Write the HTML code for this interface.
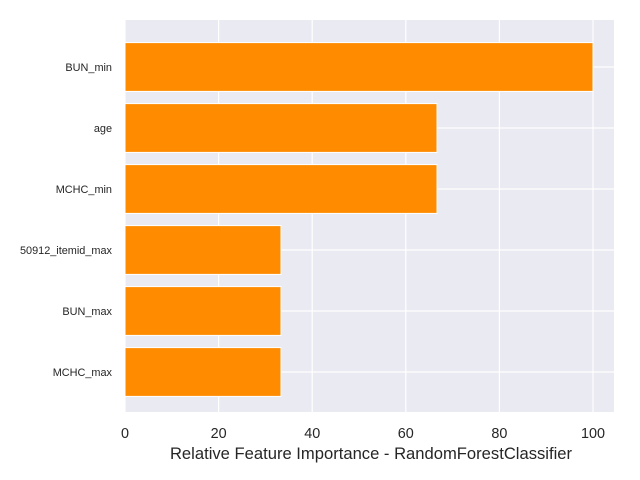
<!DOCTYPE html>
<html><head><meta charset="utf-8"><style>
body{margin:0;background:#fff;}
svg{display:block;font-family:"Liberation Sans","DejaVu Sans",sans-serif;}
</style></head><body>
<svg id="chart" width="640" height="480">
<rect x="125" y="20" width="489" height="392" fill="#eaeaf2"/>
<g id="grid"></g><g id="bars"></g><g id="labels"></g>
<text x="371" y="459" text-anchor="middle" font-size="16.6" fill="#262626">Relative Feature Importance - RandomForestClassifier</text>
</svg>
<script>
const categories=["BUN_min","age","MCHC_min","50912_itemid_max","BUN_max","MCHC_max"];
const values=[100,66.67,66.67,33.33,33.33,33.33];
const xTicks=[0,20,40,60,80,100];
const NS="http://www.w3.org/2000/svg";
const x=v=>125+v*4.68;
const y=i=>67+i*61;
function mk(tag,attrs,parent,text){const e=document.createElementNS(NS,tag);for(const k in attrs)e.setAttribute(k,attrs[k]);if(text!==undefined)e.textContent=text;document.getElementById(parent).appendChild(e);return e;}
xTicks.forEach(t=>{
 const l=mk('line',{x1:x(t),x2:x(t),y1:20,y2:412,stroke:'#fff','stroke-width':1.2},'grid');
 
 
 const tx=mk('text',{x:x(t),y:438,'text-anchor':'middle','font-size':14.4,fill:'#262626'},'labels',String(t));
 
 
});
categories.forEach((c,i)=>{
 const g=mk('line',{x1:125,x2:614,y1:y(i),y2:y(i),stroke:'#fff','stroke-width':1.2},'grid');
 
 
 const r=mk('rect',{x:125,y:y(i)-24.4,width:x(values[i])-125,height:48.8,fill:'#ff8c00',stroke:'#fff','stroke-width':1},'bars');
 
 
 const t=mk('text',{x:112,y:y(i)+3.8,'text-anchor':'end','font-size':10.9,fill:'#262626'},'labels',c);
 
 
});
</script>
</body></html>
